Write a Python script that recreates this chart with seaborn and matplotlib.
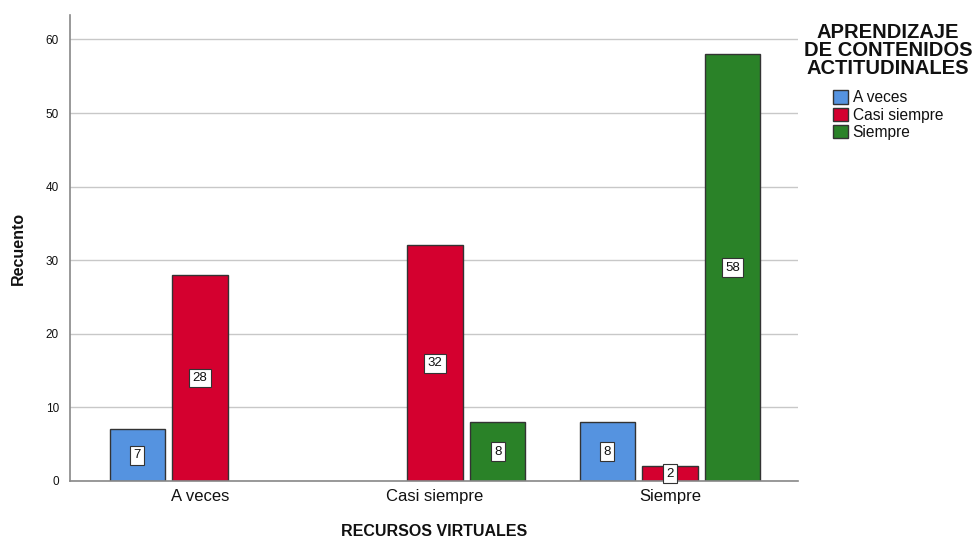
import matplotlib
matplotlib.use("Agg")
import matplotlib.pyplot as plt
import seaborn as sns
import pandas as pd
import numpy as np

categories = ["A veces", "Casi siempre", "Siempre"]
hue_levels = ["A veces", "Casi siempre", "Siempre"]
x_cat = ["A veces", "A veces", "Casi siempre", "Casi siempre", "Siempre", "Siempre", "Siempre"]
hue_cat = ["A veces", "Casi siempre", "Casi siempre", "Siempre", "A veces", "Casi siempre", "Siempre"]
counts = [7, 28, 32, 8, 8, 2, 58]
colors = ["#5593E0", "#D4002F", "#2A8228"]

df = pd.DataFrame({"x": x_cat, "hue": hue_cat, "n": counts})

sns.set_style("white")
plt.rcParams['font.family'] = ['Liberation Sans', 'DejaVu Sans']
plt.rcParams['text.color'] = '#111111'
plt.rcParams['axes.labelcolor'] = '#111111'
plt.rcParams['xtick.color'] = '#111111'
plt.rcParams['ytick.color'] = '#111111'

fig = plt.figure(figsize=(9.78, 5.4), dpi=100)
ax = fig.add_axes([0.0716, 0.1093, 0.816 - 0.0716, 0.972 - 0.1093])

sns.barplot(data=df, x="x", y="n", hue="hue", order=categories, hue_order=hue_levels,
            palette=colors, saturation=1, width=0.8, gap=0.12, edgecolor="#333333", linewidth=1.0,
            ax=ax, errorbar=None, legend=True)

for cont in ax.containers:
    labels = [f"{int(v)}" if not np.isnan(v) else "" for v in cont.datavalues]
    ax.bar_label(cont, labels=labels, label_type="center", fontsize=9.5,
                 bbox=dict(boxstyle="square,pad=0.25", facecolor="white", edgecolor="#333333", linewidth=0.8))

ax.set_ylim(0, 63.3)
ax.set_xlim(-0.553, 2.545)
ax.set_yticks([0, 10, 20, 30, 40, 50, 60])
ax.yaxis.grid(True, color="#C8C8C8", linewidth=1)
ax.set_axisbelow(True)
for s in ["top", "right"]:
    ax.spines[s].set_visible(False)
for s in ["left", "bottom"]:
    ax.spines[s].set_color("#888888")
    ax.spines[s].set_linewidth(1.2)
ax.tick_params(axis="y", labelsize=8.5, length=0, pad=8)
ax.tick_params(axis="x", labelsize=12, length=0, pad=6)
ax.set_ylabel("Recuento", fontsize=11.5, fontweight="bold", labelpad=14)
ax.set_xlabel("RECURSOS VIRTUALES", fontsize=11.5, fontweight="bold", labelpad=14)

handles, lbls = ax.get_legend_handles_labels()
leg = ax.legend(handles, lbls, title="APRENDIZAJE\nDE CONTENIDOS\nACTITUDINALES",
                loc="upper left", bbox_to_anchor=(1.008, 0.983), frameon=False,
                fontsize=11.2, title_fontproperties={"weight": "bold", "size": 14.5},
                handlelength=0.95, handleheight=0.95, handletextpad=0.3, labelspacing=0.15,
                borderaxespad=0, borderpad=0)
leg._legend_box.align = "center"
leg._legend_box.sep = 9
t = leg.get_title()
t.set_multialignment("center")
t.set_linespacing(0.92)
for h in leg.legend_handles:
    h.set_edgecolor("#333333")

fig.savefig("out.png", dpi=100)
